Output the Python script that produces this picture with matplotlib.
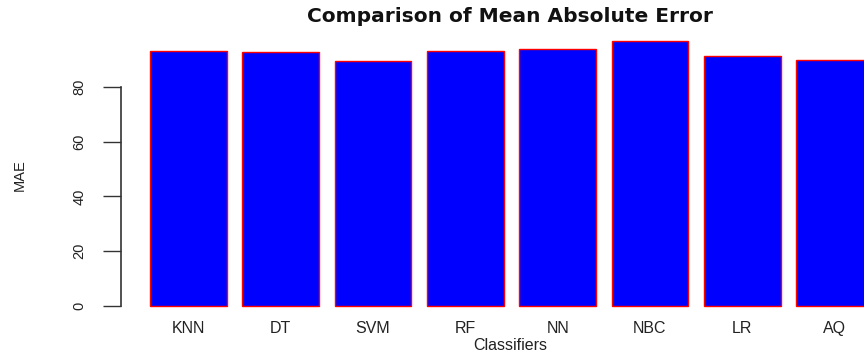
import matplotlib
matplotlib.use("Agg")
import matplotlib.pyplot as plt

# Mean absolute error per classifier
classifiers = ["KNN", "DT", "SVM", "RF", "NN", "NBC", "LR", "AQ"]
mae = [93.0, 92.7, 89.6, 93.0, 93.9, 96.7, 91.2, 89.9]
y_ticks = [0, 20, 40, 60, 80]

plt.rcParams["font.family"] = ["Liberation Sans", "DejaVu Sans"]

fig = plt.figure(figsize=(8.64, 3.52), dpi=100)
# plot region extends past the right edge of the canvas
ax = fig.add_axes([0.140, 0.1006, 0.904, 0.8122])

# R-style barplot layout: width 1, space 0.2
width = 1.0
space = 0.2
centers = [space + width / 2 + i * (width + space) for i in range(len(mae))]
ax.bar(centers, mae, width=width, color="#0000FF", edgecolor="#FF0000",
       linewidth=1.0)

lo = space
hi = centers[-1] + width / 2
pad_x = 0.04 * (hi - lo)
ax.set_xlim(lo - pad_x, hi + pad_x)
top = max(mae)
ax.set_ylim(-0.04 * top, top * 1.04)

for side in ["top", "right", "bottom"]:
    ax.spines[side].set_visible(False)
ax.spines["left"].set_bounds(y_ticks[0], y_ticks[-1])
ax.spines["left"].set_color("#333333")
ax.spines["left"].set_linewidth(1.2)

ax.set_yticks(y_ticks)
ax.set_yticklabels([str(t) for t in y_ticks], rotation=90, va="center",
                   fontsize=10.5, color="#222222")
ax.tick_params(axis="y", length=13, width=1.0, color="#333333", pad=12)

ax.set_xticks(centers)
ax.set_xticklabels(classifiers, fontsize=11.5, color="#222222")
ax.tick_params(axis="x", length=0, pad=3)

fig.text(0.590, 1 - 17 / 352, "Comparison of Mean Absolute Error",
         ha="center", va="center", fontsize=14.5, fontweight="bold",
         family=["DejaVu Sans"], color="#111111")
fig.text(0.591, 1 - 346 / 352, "Classifiers", ha="center", va="center",
         fontsize=11.5, color="#222222")
fig.text(20 / 864, 1 - 175 / 352, "MAE", ha="center", va="center",
         rotation=90, fontsize=10.5, color="#222222")

fig.savefig("out.png", dpi=100)
